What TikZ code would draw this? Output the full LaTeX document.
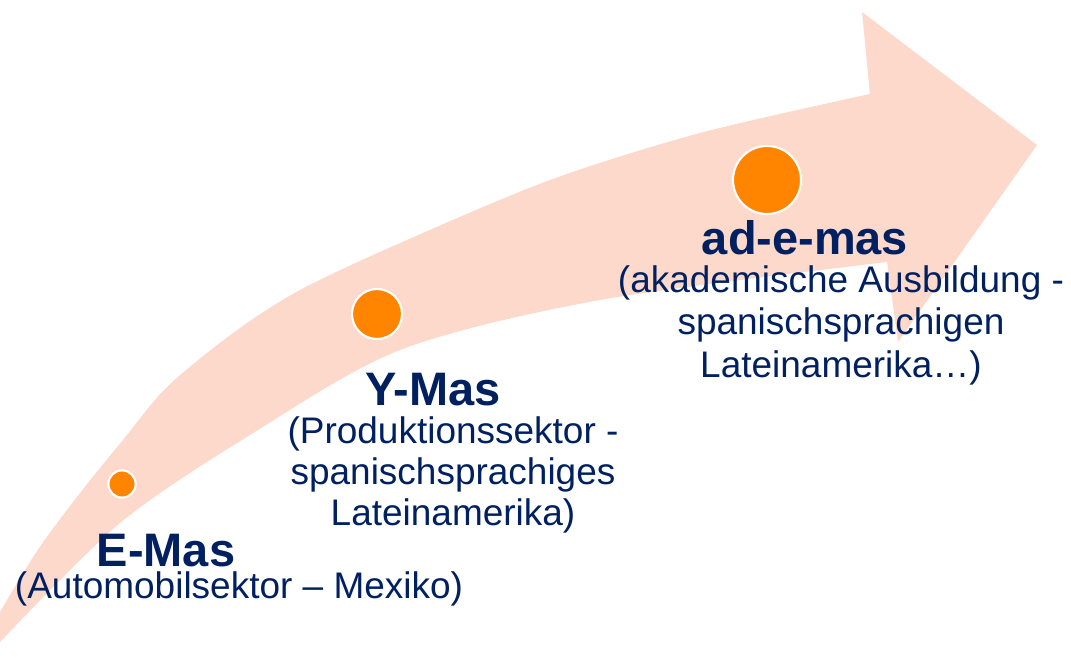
\documentclass[tikz,border=0pt]{standalone}
\usepackage{fontspec}
\setmainfont{Liberation Sans}
\definecolor{arrowpink}{RGB}{253,217,204}
\definecolor{dotorange}{RGB}{255,133,0}
\definecolor{navy}{RGB}{0,32,96}

\begin{document}
\begin{tikzpicture}[x=0.025cm,y=-0.025cm,
    title/.style={text=navy,inner sep=0pt,anchor=base,
      font=\fontsize{33.4}{36}\selectfont\bfseries},
    desc/.style={text=navy,inner sep=0pt,anchor=base,align=center,
      font=\fontsize{26.3}{29.6}\selectfont},
    dot/.style={circle,fill=dotorange,draw=white,line width=1.5pt,
      inner sep=0pt}]
  \useasboundingbox (0,0) rectangle (1071,669);

  % the big curved arrow
  \fill[arrowpink] plot[smooth] coordinates {(0,642) (120,523) (250,435)
    (400,350) (600,300) (887,262)}
    -- (898,342) -- (1037,145) -- (862,12) -- (870,94)
    -- plot[smooth] coordinates {(870,94) (700,133) (550,180) (400,243)
    (300,290) (233,333) (167,387) (123,440) (80,493) (37,551) (0,612)}
    -- cycle;

  \node[dot,minimum size=0.68cm] (dotE) at (122,484) {};
  \node[dot,minimum size=1.25cm] (dotY) at (377,314) {};
  \node[dot,minimum size=1.7cm] (dotA) at (767,180) {};

  \node[title] (titleE) at (166,566) {E-Mas};
  \node[desc] (descE) at (239,598) {(Automobilsektor – Mexiko)};

  % base of a multi-line node = baseline of its last line
  \node[title] (titleY) at (433,405) {Y-Mas};
  \node[desc,font=\fontsize{26.3}{29}\selectfont] (descY) at (453,525)
    {(Produktionssektor -\\ spanischsprachiges\\ Lateinamerika)};

  \node[title] (titleA) at (805,255) {ad-e-mas};
  \node[desc,font=\fontsize{26.3}{30.2}\selectfont] (descA) at (841,377)
    {(akademische Ausbildung -\\ spanischsprachigen\\ Lateinamerika…)};
\end{tikzpicture}
\end{document}
